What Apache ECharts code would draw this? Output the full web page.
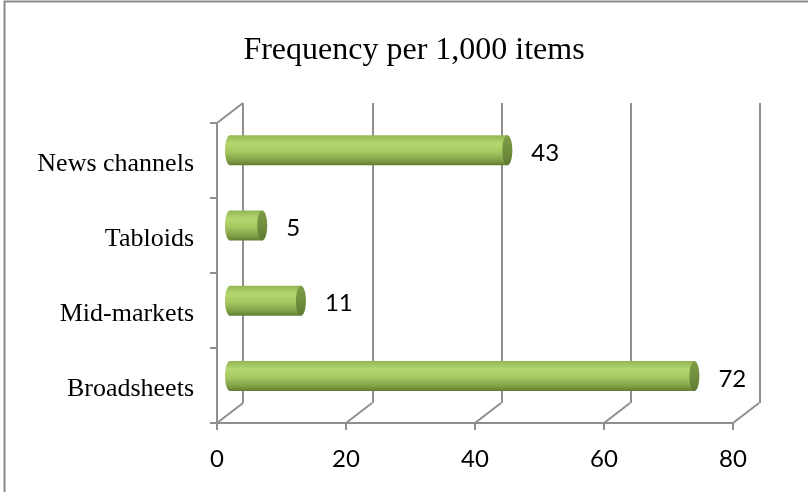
<!DOCTYPE html>
<html>
<head>
<meta charset="utf-8">
<script src="https://cdn.jsdelivr.net/npm/echarts@6/dist/echarts.min.js"></script>
<style>
  html, body { margin: 0; padding: 0; background: #ffffff; }
  #chart { width: 808px; height: 492px; }
</style>
</head>
<body>
<div id="chart"></div>
<script>
// Categories listed bottom to top, as the category axis draws them
const categories = ['Broadsheets', 'Mid-markets', 'Tabloids', 'News channels'];
const frequency = [72, 11, 5, 43];
const xTicks = [0, 20, 40, 60, 80];
const titleText = 'Frequency per 1,000 items';

const AXIS_GREY = '#8f8f8f';
const DEPTH_X = 26;   // floor depth offset of the 3-D frame
const DEPTH_Y = -20;

const chart = echarts.init(document.getElementById('chart'));

const barGradient = new echarts.graphic.LinearGradient(0, 0, 0, 1, [
  { offset: 0, color: '#93b654' },
  { offset: 0.28, color: '#b3d66f' },
  { offset: 0.55, color: '#a6c962' },
  { offset: 0.85, color: '#7f9e45' },
  { offset: 1, color: '#627e33' }
]);
const capGradient = new echarts.graphic.LinearGradient(0, 0, 0, 1, [
  { offset: 0, color: '#7f9c47' },
  { offset: 0.5, color: '#728f3e' },
  { offset: 1, color: '#5e7a31' }
]);

// Cylinder bar: rounded left end, lit body, darker end cap and value label
function renderCylinder(params, api) {
  const v = api.value(0);
  const cat = api.value(1);
  const start = api.coord([0, cat]);
  const end = api.coord([v, cat]);
  const h = 30;
  const rx = 5;
  const cy = start[1];
  return {
    type: 'group',
    children: [
      { type: 'ellipse', shape: { cx: start[0], cy: cy, rx: rx, ry: h / 2 }, style: { fill: barGradient } },
      { type: 'rect', shape: { x: start[0], y: cy - h / 2, width: end[0] - start[0], height: h }, style: { fill: barGradient } },
      { type: 'ellipse', shape: { cx: end[0], cy: cy, rx: rx, ry: h / 2 }, style: { fill: capGradient } },
      {
        type: 'text',
        style: {
          x: end[0] + 24, y: cy + 3,
          text: String(v),
          fill: '#000000',
          font: '24px Lato',
          align: 'left', verticalAlign: 'middle'
        }
      }
    ]
  };
}

// Floor connectors from the front axis to the back wall, one per tick
function renderDepthLines(params, api) {
  const cs = params.coordSys;
  const x = api.coord([api.value(0), 0])[0];
  const bottom = cs.y + cs.height;
  const style = { stroke: AXIS_GREY, lineWidth: 2 };
  const children = [
    { type: 'line', shape: { x1: x, y1: bottom, x2: x + DEPTH_X, y2: bottom + DEPTH_Y }, style: style }
  ];
  if (params.dataIndex === 0) {
    children.push({ type: 'line', shape: { x1: x, y1: cs.y, x2: x + DEPTH_X, y2: cs.y + DEPTH_Y }, style: style });
  }
  return { type: 'group', children: children };
}

chart.setOption({
  animation: false,
  backgroundColor: '#ffffff',
  title: {
    text: titleText,
    left: 409,
    top: 30,
    textAlign: 'center',
    textStyle: { fontFamily: 'Liberation Serif', fontSize: 32, fontWeight: 'normal', color: '#000000' }
  },
  graphic: [
    {
      type: 'polyline',
      shape: { points: [[4.5, 492], [4.5, 1.5], [808, 1.5]] },
      style: { stroke: '#8a8a8a', lineWidth: 2, fill: null },
      z: 10
    }
  ],
  grid: [
    { left: 243, top: 103, width: 517, height: 300 },   // back wall
    { left: 217, top: 123, width: 516, height: 300 },   // front axes
    { left: 230, top: 112.5, width: 516, height: 301 }  // bars
  ],
  xAxis: [
    {
      gridIndex: 0, type: 'value', min: 0, max: 80, interval: 20,
      axisLine: { show: false }, axisTick: { show: false }, axisLabel: { show: false },
      splitLine: { show: true, lineStyle: { color: AXIS_GREY, width: 2 } }
    },
    {
      gridIndex: 1, type: 'value', min: 0, max: 80, interval: 20,
      axisLine: { show: true, lineStyle: { color: AXIS_GREY, width: 2 } },
      axisTick: { show: true, length: 7, lineStyle: { color: AXIS_GREY, width: 2 } },
      axisLabel: { show: true, margin: 24, fontFamily: 'Lato', fontSize: 24, color: '#000000' },
      splitLine: { show: false }
    },
    {
      gridIndex: 2, type: 'value', min: 0, max: 80, interval: 20, show: false
    }
  ],
  yAxis: [
    { gridIndex: 0, type: 'category', data: categories, show: false },
    {
      gridIndex: 1, type: 'category', data: categories,
      axisLine: { show: true, lineStyle: { color: AXIS_GREY, width: 2 } },
      axisTick: { show: true, length: 7, lineStyle: { color: AXIS_GREY, width: 2 } },
      axisLabel: {
        show: true, margin: 23, color: '#000000',
        formatter: function (value) { return '{c|' + value + '}'; },
        rich: {
          c: { fontFamily: 'Liberation Serif', fontSize: 26, color: '#000000', padding: [7, 0, 0, 0] }
        }
      },
      splitLine: { show: false }
    },
    { gridIndex: 2, type: 'category', data: categories, show: false }
  ],
  series: [
    {
      type: 'custom',
      xAxisIndex: 1, yAxisIndex: 1,
      renderItem: renderDepthLines,
      data: xTicks.map(t => [t, 0]),
      encode: { x: 0, y: 1 },
      silent: true,
      z: 1
    },
    {
      type: 'custom',
      xAxisIndex: 2, yAxisIndex: 2,
      renderItem: renderCylinder,
      data: frequency.map((v, i) => [v, i]),
      encode: { x: 0, y: 1 },
      z: 5
    }
  ]
});
</script>
</body>
</html>
